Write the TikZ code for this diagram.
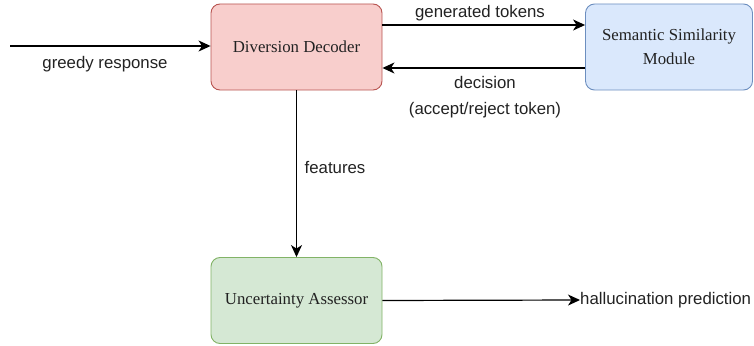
\documentclass[tikz,border=0pt]{standalone}
\usepackage{fontspec}
\setmainfont{Liberation Serif}
\setsansfont{Liberation Sans}
\usetikzlibrary{arrows.meta}
\definecolor{redfill}{HTML}{F8CECC}
\definecolor{redline}{HTML}{B85450}
\definecolor{bluefill}{HTML}{DAE8FC}
\definecolor{blueline}{HTML}{6C8EBF}
\definecolor{greenfill}{HTML}{D5E8D4}
\definecolor{greenline}{HTML}{82B366}
\definecolor{txt}{HTML}{222222}
\tikzset{
  box/.style={draw, rounded corners=9pt, line width=0.9pt, minimum width=171pt, minimum height=86pt, align=center, font=\fontsize{16.8}{24}\selectfont, text=txt, inner sep=0pt},
  redbox/.style={box, fill=redfill, draw=redline},
  bluebox/.style={box, fill=bluefill, draw=blueline, minimum width=167pt},
  greenbox/.style={box, fill=greenfill, draw=greenline},
  conn/.style={line width=1.2pt, -{Stealth[length=12pt,width=11pt,inset=3.5pt]}},
  lbl/.style={font=\sffamily\fontsize{16.8}{20}\selectfont, text=txt, inner sep=0pt}
}
\begin{document}
\begin{tikzpicture}[x=1pt,y=-1pt]
\useasboundingbox (0,0) rectangle (754,345);
\node[redbox] (dd) at (296.5,47) {Diversion Decoder};
\node[bluebox] (ssm) at (669,47) {Semantic Similarity\\Module};
\node[greenbox] (ua) at (296.5,300.5) {Uncertainty Assessor};
\coordinate (in) at (10,46);
\node[lbl, anchor=west] (hp) at (580,300) {hallucination prediction};
\draw[conn] (in) -- (in -| dd.west);
\node[lbl] (lgr) at (105,64) {greedy response};
\draw[conn] ([yshift=22pt]dd.east) -- ([yshift=22pt]dd.east -| ssm.west);
\node[lbl] (lgt) at (480,13) {generated tokens};
\draw[conn] ([yshift=-21pt]ssm.west) -- ([yshift=-21pt]ssm.west -| dd.east);
\node[lbl] (ldec) at (485,82) {decision};
\node[lbl] (lacc) at (485,110) {(accept/reject token)};
\draw[conn] (dd.south) -- (ua.north);
\node[lbl] (lfeat) at (335,168) {features};
\draw[conn] (ua.east) -- (hp.west);
\end{tikzpicture}
\end{document}
